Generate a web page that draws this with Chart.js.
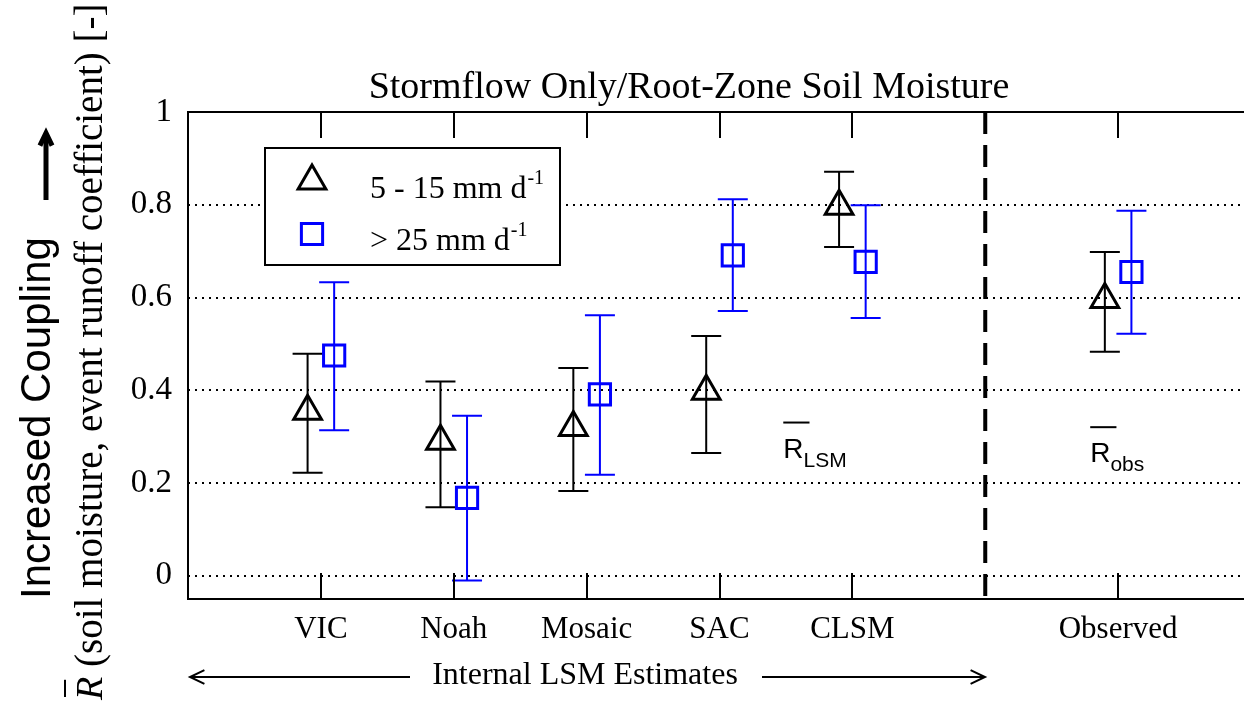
<!DOCTYPE html>
<html>
<head>
<meta charset="utf-8">
<script src="https://cdn.jsdelivr.net/npm/chart.js@4"></script>
<style>
  html, body { margin: 0; padding: 0; overflow: hidden; background: #fff; }
  #wrap { width: 1270px; height: 703px; }
</style>
</head>
<body>
<div id="wrap"><canvas id="myChart" width="1270" height="703"></canvas></div>
<script>
const categories = ['VIC', 'Noah', 'Mosaic', 'SAC', 'CLSM', 'Observed'];
const catPos = [1, 2, 3, 4, 5, 7];
const yTicks = [0, 0.2, 0.4, 0.6, 0.8, 1];

// 5 - 15 mm d-1 (triangles)
const lowMean = [0.355, 0.29, 0.32, 0.398, 0.797, 0.596];
const lowMin  = [0.222, 0.148, 0.183, 0.265, 0.709, 0.483];
const lowMax  = [0.479, 0.419, 0.448, 0.517, 0.871, 0.698];
// > 25 mm d-1 (squares)
const highMean = [0.475, 0.168, 0.391, 0.691, 0.677, 0.655];
const highMin  = [0.314, -0.01, 0.218, 0.571, 0.556, 0.522];
const highMax  = [0.633, 0.345, 0.562, 0.812, 0.799, 0.787];

const SERIF = '"Liberation Serif", "Times New Roman", serif';
const SANS = '"Liberation Sans", Arial, sans-serif';
const BLUE = 'rgb(0, 0, 255)';
const shift = 0.1; // side-by-side offset of the two series

function points(mean, lo, hi, dx) {
  return catPos.map((x, i) => ({ x: x + dx, y: mean[i], lo: lo[i], hi: hi[i] }));
}

const data = {
  datasets: [{
    label: '5 - 15 mm d-1',
    data: points(lowMean, lowMin, lowMax, -shift),
    pointStyle: 'triangle',
    pointRadius: 16,
    pointBorderWidth: 3,
    pointBorderColor: '#000',
    pointBackgroundColor: 'rgba(0,0,0,0)',
    barColor: '#000'
  }, {
    label: '> 25 mm d-1',
    data: points(highMean, highMin, highMax, shift),
    pointStyle: 'rect',
    pointRadius: 15,
    pointBorderWidth: 3,
    pointBorderColor: BLUE,
    pointBackgroundColor: 'rgba(0,0,0,0)',
    barColor: BLUE
  }]
};

/*---------------------------------------*/
// grid, separator and error bars under the markers
const underlay = {
  id: 'underlay',
  beforeDatasetsDraw(chart) {
    const { ctx, chartArea: a, scales: { x, y } } = chart;
    ctx.save();
    ctx.strokeStyle = '#000';
    ctx.lineWidth = 2;
    ctx.setLineDash([2, 5]);
    yTicks.slice(0, -1).forEach(v => {
      const py = Math.round(y.getPixelForValue(v));
      ctx.beginPath();
      ctx.moveTo(a.left, py);
      ctx.lineTo(a.right, py);
      ctx.stroke();
    });
    // separator between LSMs and observations
    ctx.lineWidth = 4;
    ctx.setLineDash([22, 11]);
    const sx = x.getPixelForValue(6);
    ctx.beginPath();
    ctx.moveTo(sx, a.top);
    ctx.lineTo(sx, a.bottom);
    ctx.stroke();
    ctx.setLineDash([]);

    ctx.lineWidth = 2;
    chart.data.datasets.forEach(ds => {
      ctx.strokeStyle = ds.barColor;
      ds.data.forEach(p => {
        const px = x.getPixelForValue(p.x);
        const top = y.getPixelForValue(p.hi);
        const bot = y.getPixelForValue(p.lo);
        ctx.beginPath();
        ctx.moveTo(px, top); ctx.lineTo(px, bot);
        ctx.moveTo(px - 15, top); ctx.lineTo(px + 15, top);
        ctx.moveTo(px - 15, bot); ctx.lineTo(px + 15, bot);
        ctx.stroke();
      });
    });
    ctx.restore();
  }
};

function textWithSup(ctx, str, sup, x, y, size) {
  ctx.font = size + 'px ' + SERIF;
  ctx.fillText(str, x, y);
  const w = ctx.measureText(str).width;
  ctx.font = Math.round(size * 0.62) + 'px ' + SERIF;
  ctx.fillText(sup, x + w + 1, y - size * 0.45);
}

function barLabel(ctx, main, sub, x, y) {
  ctx.font = '28px ' + SANS;
  ctx.fillText(main, x, y);
  const w = ctx.measureText(main).width;
  ctx.fillRect(x, y - 36, w + 6, 2);
  ctx.font = '21px ' + SANS;
  ctx.fillText(sub, x + w, y + 9);
}

function arrow(ctx, x1, y1, x2, y2, head, width) {
  const ang = Math.atan2(y2 - y1, x2 - x1);
  ctx.lineWidth = width;
  ctx.beginPath();
  ctx.moveTo(x1, y1);
  ctx.lineTo(x2 - Math.cos(ang) * 2, y2 - Math.sin(ang) * 2);
  ctx.stroke();
  ctx.beginPath();
  ctx.moveTo(x2 - head * Math.cos(ang - 0.45), y2 - head * Math.sin(ang - 0.45));
  ctx.lineTo(x2, y2);
  ctx.lineTo(x2 - head * Math.cos(ang + 0.45), y2 - head * Math.sin(ang + 0.45));
  ctx.stroke();
}

// frame, inward ticks, legend and all the extra text
const overlay = {
  id: 'overlay',
  afterDraw(chart) {
    const { ctx, chartArea: a, scales: { x, y } } = chart;
    ctx.save();
    ctx.strokeStyle = '#000';
    ctx.fillStyle = '#000';
    ctx.lineWidth = 2;
    ctx.strokeRect(a.left, a.top, a.right - a.left, a.bottom - a.top);
    catPos.forEach(v => {
      const px = Math.round(x.getPixelForValue(v));
      ctx.beginPath();
      ctx.moveTo(px, a.top); ctx.lineTo(px, a.top + 26);
      ctx.moveTo(px, a.bottom); ctx.lineTo(px, a.bottom - 26);
      ctx.stroke();
    });

    // legend
    ctx.fillStyle = '#fff';
    ctx.fillRect(265, 148, 295, 117);
    ctx.strokeRect(265, 148, 295, 117);
    chart.data.datasets.forEach((ds, i) => {
      const ly = 181 + i * 53;
      ctx.fillStyle = 'rgba(0,0,0,0)';
      ctx.strokeStyle = ds.pointBorderColor;
      ctx.lineWidth = 3;
      Chart.helpers.drawPoint(ctx, {
        pointStyle: ds.pointStyle, radius: ds.pointRadius, borderWidth: 3
      }, 312, ly);
    });
    ctx.fillStyle = '#000';
    ctx.textAlign = 'left';
    ctx.textBaseline = 'alphabetic';
    textWithSup(ctx, '5 - 15 mm d', '-1', 370, 198, 32);
    textWithSup(ctx, '> 25 mm d', '-1', 370, 250, 32);

    // mean labels
    barLabel(ctx, 'R', 'LSM', x.getPixelForValue(4.48), y.getPixelForValue(0.255));
    barLabel(ctx, 'R', 'obs', x.getPixelForValue(6.79), y.getPixelForValue(0.245));

    // title
    ctx.textAlign = 'center';
    ctx.font = '38px ' + SERIF;
    ctx.fillText('Stormflow Only/Root-Zone Soil Moisture', 689, 98);

    // bottom caption with arrows
    ctx.font = '32px ' + SERIF;
    ctx.fillText('Internal LSM Estimates', 585, 684);
    ctx.strokeStyle = '#000';
    arrow(ctx, 410, 677, 190, 677, 16, 2);
    arrow(ctx, 762, 677, 985, 677, 16, 2);

    // y axis title (rotated)
    ctx.save();
    ctx.translate(102, 700);
    ctx.rotate(-Math.PI / 2);
    ctx.textAlign = 'left';
    ctx.font = 'italic 38px ' + SERIF;
    ctx.fillText('R', 0, 0);
    const rw = ctx.measureText('R').width;
    ctx.fillRect(3, -38, rw - 6, 2);
    ctx.font = '39px ' + SERIF;
    ctx.fillText(' (soil moisture, event runoff coefficient) [-]', rw, 0);
    ctx.restore();

    ctx.save();
    ctx.translate(50, 599);
    ctx.rotate(-Math.PI / 2);
    ctx.textAlign = 'left';
    ctx.font = '42px ' + SANS;
    ctx.fillText('Increased Coupling', 0, 0);
    ctx.restore();
    arrow(ctx, 46, 200, 46, 133, 14, 5);
    ctx.restore();
  }
};

const config = {
  type: 'scatter',
  data: data,
  options: {
    responsive: false,
    animation: false,
    layout: { padding: { left: 0, top: 112, right: 14, bottom: 0 } },
    plugins: { legend: { display: false }, tooltip: { enabled: false } },
    scales: {
      x: {
        type: 'linear',
        min: 0,
        max: 8,
        grid: { display: false, drawTicks: false },
        border: { display: false },
        afterBuildTicks: s => { s.ticks = catPos.map(v => ({ value: v })); },
        afterFit: s => { s.height = 104; },
        ticks: {
          padding: 12,
          color: '#000',
          font: { family: SERIF, size: 31 },
          callback: v => categories[catPos.indexOf(v)]
        }
      },
      y: {
        min: -0.05,
        max: 1,
        grid: { display: false, drawTicks: false },
        border: { display: false },
        afterBuildTicks: s => { s.ticks = yTicks.map(v => ({ value: v })); },
        afterFit: s => { s.width = 188; },
        ticks: {
          padding: 16,
          color: '#000',
          font: { family: SERIF, size: 33 },
          callback: v => String(v)
        }
      }
    }
  },
  plugins: [underlay, overlay]
};

const myChart = new Chart(document.getElementById('myChart'), config);
</script>
</body>
</html>
